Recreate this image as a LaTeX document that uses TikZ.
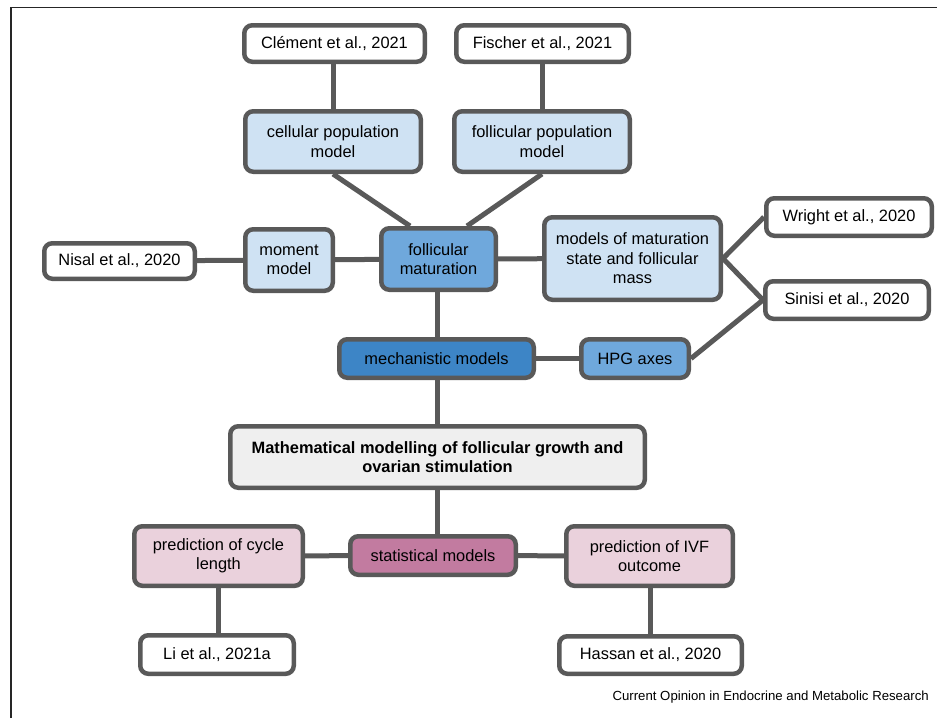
\documentclass[tikz,border=0pt]{standalone}
\usepackage{fontspec}
\setmainfont{Liberation Sans}
\usetikzlibrary{backgrounds,calc}
\definecolor{bordc}{HTML}{595959}
\definecolor{lblue}{HTML}{CFE2F3}
\definecolor{mblue}{HTML}{6FA8DC}
\definecolor{dblue}{HTML}{3D85C6}
\definecolor{lgrey}{HTML}{EFEFEF}
\definecolor{lpink}{HTML}{EAD1DC}
\definecolor{mauve}{HTML}{C27BA0}
\tikzset{
  box/.style={draw=bordc, line width=4.5pt, rounded corners=8pt, inner sep=0pt,
    align=center, font=\fontsize{16.4}{19.5}\selectfont, text=black},
  wbox/.style={box, fill=white},
  lbbox/.style={box, fill=lblue},
  mbbox/.style={box, fill=mblue},
  dbbox/.style={box, fill=dblue},
  gbox/.style={box, fill=lgrey},
  pbox/.style={box, fill=lpink},
  mvbox/.style={box, fill=mauve},
  conn/.style={draw=bordc, line width=5pt},
  sz/.style 2 args={minimum width=#1pt-4.5pt, minimum height=#2pt-4.5pt}
}
\begin{document}
\begin{tikzpicture}[x=1pt,y=-1pt]
\useasboundingbox (0,0) rectangle (937,718);
\begin{pgfonlayer}{background}
\fill[white] (0,0) rectangle (937,718);
\end{pgfonlayer}
\draw[line width=1.2pt, black!85] (11,718) -- (11,7.5) -- (937,7.5);

\node[wbox, sz={185}{41}] (clement) at (334.5,43.5) {Clément et al., 2021};
\node[wbox, sz={177}{41}] (fischer) at (542.5,43.5) {Fischer et al., 2021};
\node[lbbox, sz={180}{65}] (cellpop) at (333,141.5) {cellular population\\model};
\node[lbbox, sz={180}{65}] (follpop) at (542,141.5) {follicular population\\model};
\node[wbox, sz={155}{40}] (nisal) at (119.5,261) {Nisal et al., 2020};
\node[lbbox, sz={92}{66}] (moment) at (289,260) {moment\\model};
\node[mbbox, sz={119}{66}] (follmat) at (438.5,259) {follicular\\maturation};
\node[lbbox, sz={181}{87}] (matstate) at (632.5,258.5) {models of maturation\\state and follicular\\mass};
\node[wbox, sz={170}{42}] (wright) at (849,217) {Wright et al., 2020};
\node[wbox, sz={168}{42}] (sinisi) at (847,300) {Sinisi et al., 2020};
\node[dbbox, sz={199}{43}] (mech) at (436.5,358.5) {mechanistic models};
\node[mbbox, sz={112}{43}] (hpg) at (635,358.5) {HPG axes};
\node[gbox, sz={419}{66}, font=\fontsize{16.4}{19.5}\selectfont\bfseries] (math) at (437.5,457) {Mathematical modelling of follicular growth and\\ovarian stimulation};
\node[mvbox, sz={170}{43}] (stat) at (433,555.5) {statistical models};
\node[pbox, sz={173}{64}] (cycle) at (218.5,556) {prediction of cycle\\length};
\node[pbox, sz={171}{64}] (ivf) at (649.5,556) {prediction of IVF\\outcome};
\node[wbox, sz={158}{43}] (li) at (217,654.5) {Li et al., 2021a};
\node[wbox, sz={187}{42}] (hassan) at (650.5,655) {Hassan et al., 2020};

\node[anchor=east, inner sep=0pt, font=\fontsize{13.2}{15}\selectfont] (credit) at (929,697) {Current Opinion in Endocrine and Metabolic Research};

\begin{pgfonlayer}{background}
\draw[conn] (cellpop.north) -- (cellpop.north |- clement.south);
\draw[conn] (follpop.north) -- (follpop.north |- fischer.south);
\draw[conn] (cellpop.south) -- ([xshift=-28.5pt]follmat.north);
\draw[conn] (follpop.south) -- ([xshift=28.5pt]follmat.north);
\draw[conn] (nisal) -- (moment);
\draw[conn] (moment) -- (follmat);
\draw[conn] (follmat) -- (matstate);
\draw[conn] (matstate.east) -- (wright.west);
\draw[conn] (matstate.east) -- (sinisi.west);
\draw[conn] (hpg.east) -- (sinisi.west);
\draw[conn] ([xshift=-1.5pt]follmat.south) -- ([xshift=-1.5pt]follmat.south |- mech.north);
\draw[conn] (mech) -- (hpg);
\draw[conn] (math.north) -- (math.north |- mech.south);
\draw[conn] (math.south) -- (math.south |- stat.north);
\draw[conn] (cycle) -- (stat);
\draw[conn] (stat) -- (ivf);
\draw[conn] (li.north -| cycle.south) -- (cycle.south);
\draw[conn] (hassan.north) -- (hassan.north |- ivf.south);
\end{pgfonlayer}
\end{tikzpicture}
\end{document}
